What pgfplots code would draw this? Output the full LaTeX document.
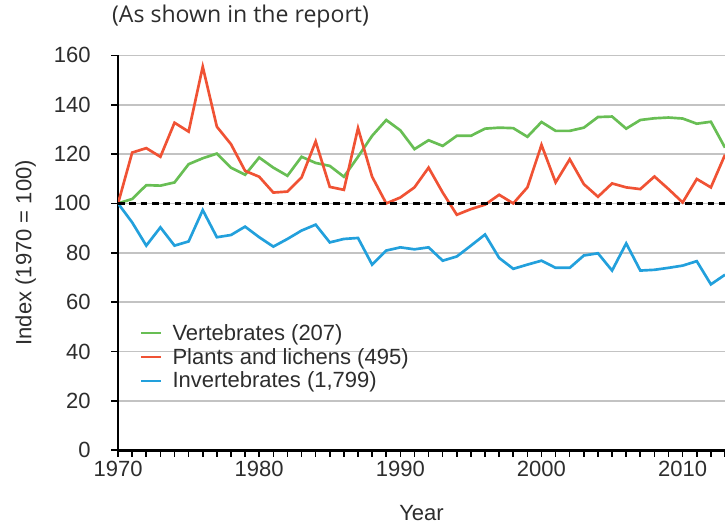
\documentclass[border=0pt]{standalone}
\usepackage{pgfplots}
\pgfplotsset{compat=1.18}
\usepackage{fontspec}
\setmainfont{Liberation Sans}
\newfontfamily\titlefont{Open Sans}
\definecolor{cgreen}{RGB}{104,190,84}
\definecolor{cred}{RGB}{240,82,52}
\definecolor{cblue}{RGB}{34,160,220}
\definecolor{cgrid}{RGB}{195,195,195}
\definecolor{ctext}{RGB}{45,45,45}
\begin{document}
\begin{tikzpicture}
\begin{axis}[
  at={(0,0)}, anchor=south west,
  scale only axis, width=455pt, height=296pt,
  xmin=1970, xmax=2013, ymin=0, ymax=160,
  axis lines*=left,
  axis line style={black, line width=2pt},
  xtick={1970,...,2013},
  xticklabels={1970,,,,,,,,,,1980,,,,,,,,,,1990,,,,,,,,,,2000,,,,,,,,,,2010,,,},
  ytick={0,20,...,160},
  tick align=outside,
  major tick length=5pt,
  every tick/.style={black, line width=1.2pt},
  ymajorgrids, grid style={cgrid, line width=1.2pt},
  xticklabel style={font=\fontsize{16.5}{19}\selectfont, text=ctext},
  yticklabel style={font=\fontsize{16.5}{19}\selectfont, text=ctext, xshift=-12pt},
  /pgf/number format/assume math mode=true,
  xlabel={Year}, ylabel={Index (1970 = 100)},
  xlabel style={font=\fontsize{16.5}{19}\selectfont, text=ctext, at={(axis description cs:0.5,0)}, anchor=center, yshift=-47pt},
  ylabel style={font=\fontsize{16.5}{19}\selectfont, text=ctext, at={(axis description cs:-0.152,0.5)}, anchor=center},
  legend style={draw=none, fill=none, at={(rel axis cs:0.036,0.325)}, anchor=north west, font=\fontsize{16.5}{18.5}\selectfont, text=ctext, row sep=1.5pt, inner sep=0pt, nodes={inner sep=1.5pt}},
  legend cell align=left,
  legend image code/.code={\draw[#1, line width=1.5pt] (0pt,0pt) -- (15pt,0pt); \path (21pt,0pt);},
  clip=true,
]
\addplot[cgreen, line width=2pt] coordinates {
(1970,100) (1971,101.8) (1972,107.4) (1973,107.2) (1974,108.5) (1975,115.9) (1976,118.3) (1977,120.2) (1978,114.5) (1979,111.6)
(1980,118.6) (1981,114.5) (1982,111.2) (1983,118.9) (1984,116.4) (1985,115.2) (1986,110.8) (1987,118.9) (1988,127.4) (1989,133.8)
(1990,129.6) (1991,122.0) (1992,125.6) (1993,123.3) (1994,127.4) (1995,127.4) (1996,130.3) (1997,130.7) (1998,130.5) (1999,127.0)
(2000,133.0) (2001,129.4) (2002,129.4) (2003,130.7) (2004,135.0) (2005,135.2) (2006,130.3) (2007,133.8) (2008,134.5) (2009,134.8)
(2010,134.4) (2011,132.3) (2012,133.1) (2013,122.6)};
\addlegendentry{Vertebrates (207)}
\addplot[cred, line width=2pt] coordinates {
(1970,100) (1971,120.6) (1972,122.4) (1973,118.9) (1974,132.7) (1975,129.1) (1976,155.4) (1977,131.1) (1978,124.0) (1979,113.2)
(1980,110.8) (1981,104.4) (1982,104.8) (1983,110.5) (1984,125.1) (1985,106.7) (1986,105.5) (1987,130.5) (1988,110.8) (1989,100.0)
(1990,102.4) (1991,106.5) (1992,114.5) (1993,104.4) (1994,95.4) (1995,97.7) (1996,99.5) (1997,103.5) (1998,100.0) (1999,106.5)
(2000,123.7) (2001,108.5) (2002,117.9) (2003,107.8) (2004,102.7) (2005,108.1) (2006,106.5) (2007,105.8) (2008,110.9) (2009,105.8)
(2010,100.4) (2011,109.9) (2012,106.5) (2013,119.7)};
\addlegendentry{Plants and lichens (495)}
\addplot[cblue, line width=2pt] coordinates {
(1970,100) (1971,92.3) (1972,82.9) (1973,90.3) (1974,82.9) (1975,84.6) (1976,97.3) (1977,86.3) (1978,87.2) (1979,90.6)
(1980,86.3) (1981,82.5) (1982,85.6) (1983,89.0) (1984,91.4) (1985,84.2) (1986,85.6) (1987,86.0) (1988,75.2) (1989,80.9)
(1990,82.2) (1991,81.4) (1992,82.2) (1993,76.8) (1994,78.5) (1995,82.9) (1996,87.4) (1997,77.9) (1998,73.5) (1999,75.2)
(2000,76.8) (2001,73.9) (2002,73.9) (2003,78.9) (2004,79.8) (2005,72.8) (2006,83.8) (2007,72.8) (2008,73.1) (2009,73.9)
(2010,74.8) (2011,76.6) (2012,67.2) (2013,71.1)};
\addlegendentry{Invertebrates (1,799)}
\addplot[black, line width=2pt, dash pattern=on 5pt off 3.5pt, forget plot] coordinates {(1970,100) (2013,100)};
\end{axis}
\node[anchor=west, font=\titlefont\fontsize{17.3}{20}\selectfont, text=ctext] at (-8pt,324.75pt) {(As shown in the report)};
\pgfresetboundingbox
\path[use as bounding box] (-88.5pt,-60pt) rectangle (455pt,337.5pt);
\end{tikzpicture}
\end{document}
